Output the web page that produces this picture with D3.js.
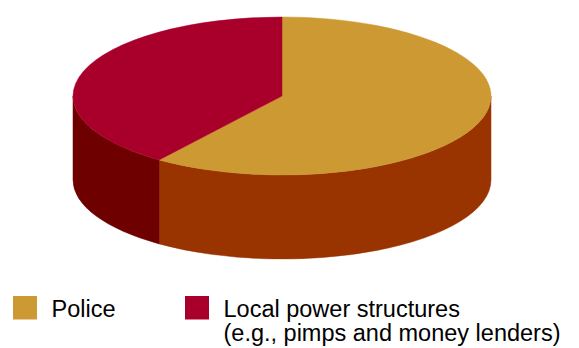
<!DOCTYPE html>
<html><head><meta charset="utf-8">
<script src="https://cdn.jsdelivr.net/npm/d3@7"></script>
<style>html,body{margin:0;padding:0;background:#fff;}svg{display:block;}</style>
</head><body>
<script>
const categories = ["Police", "Local power structures"];
const legendLines = [["Police"], ["Local power structures", "(e.g., pimps and money lenders)"]];
const values = [60, 40];
const topColors = ["#CC9933", "#A8002A"];
const sideColors = ["#993300", "#6E0000"];

const W = 579, H = 348;
const cx = 282, cy = 96, rx = 209, ry = 79, depth = 84;

const svg = d3.select("body").append("svg").attr("width", W).attr("height", H);

const pie = d3.pie().sort(null).value(d => d).startAngle(0).endAngle(2 * Math.PI);
const arcs = pie(values);

const px = a => cx + rx * Math.sin(a);
const py = (a, dy = 0) => cy - ry * Math.cos(a) + dy;

function topPath(a0, a1) {
  const large = (a1 - a0) > Math.PI ? 1 : 0;
  return `M${cx},${cy}L${px(a0)},${py(a0)}A${rx},${ry} 0 ${large} 1 ${px(a1)},${py(a1)}Z`;
}
function sidePath(a0, a1) {
  const s = Math.max(a0, Math.PI / 2), e = Math.min(a1, 3 * Math.PI / 2);
  if (e <= s) return null;
  const large = (e - s) > Math.PI ? 1 : 0;
  return `M${px(s)},${py(s)}A${rx},${ry} 0 ${large} 1 ${px(e)},${py(e)}` +
         `L${px(e)},${py(e, depth)}A${rx},${ry} 0 ${large} 0 ${px(s)},${py(s, depth)}Z`;
}

const g = svg.append("g");
arcs.forEach((d, i) => {
  const p = sidePath(d.startAngle, d.endAngle);
  if (p) g.append("path").attr("d", p).attr("fill", sideColors[i]).attr("stroke", sideColors[i]).attr("stroke-width", 0.5);
});
arcs.forEach((d, i) => {
  g.append("path").attr("d", topPath(d.startAngle, d.endAngle)).attr("fill", topColors[i]).attr("stroke", topColors[i]).attr("stroke-width", 0.5);
});

// legend
const legendX = [13, 185];
const leg = svg.append("g").attr("font-family", "Liberation Sans, Arial, sans-serif").attr("font-size", 23.5).attr("fill", "#000");
categories.forEach((c, i) => {
  leg.append("rect").attr("x", legendX[i]).attr("y", 296).attr("width", 24).attr("height", 23.5).attr("fill", topColors[i]);
  const t = leg.append("text").attr("x", legendX[i] + 38.5).attr("y", 317);
  legendLines[i].forEach((l, j) => {
    t.append("tspan").attr("x", legendX[i] + 38.5).attr("dy", j === 0 ? 0 : 24).text(l);
  });
});
</script>
</body></html>
